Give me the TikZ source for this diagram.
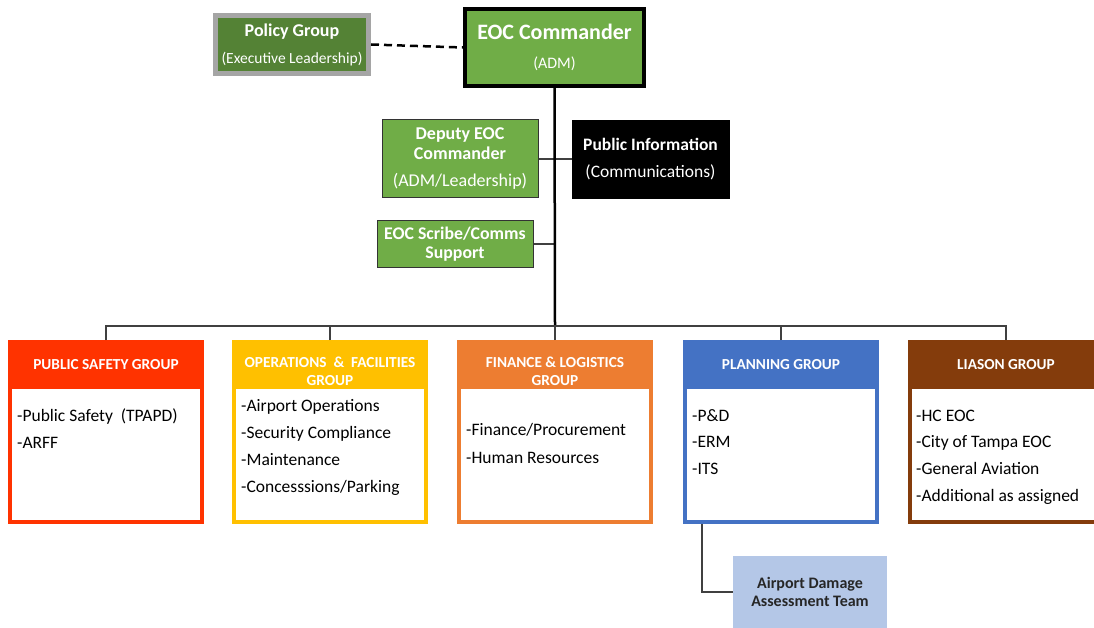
\documentclass[tikz,border=0pt]{standalone}
\usepackage{fontspec}
\setmainfont{Carlito}
\definecolor{gA}{HTML}{70AD47}
\definecolor{gB}{HTML}{548235}
\definecolor{grayB}{HTML}{A5A5A5}
\definecolor{psC}{HTML}{FF3300}
\definecolor{opC}{HTML}{FFC000}
\definecolor{fiC}{HTML}{ED7D31}
\definecolor{plC}{HTML}{4472C4}
\definecolor{liC}{HTML}{843C0C}
\definecolor{adC}{HTML}{B4C7E7}
\definecolor{lineC}{HTML}{404040}
\tikzset{
  box/.style={rectangle, inner sep=0pt, align=center},
  grp/.style={rectangle, inner sep=0pt, line width=4pt, minimum width=192pt, minimum height=180pt},
  hdr/.style={text=white, font=\bfseries\fontsize{15.3}{18}\selectfont, align=center},
  item/.style={anchor=base west, inner sep=0pt, font=\fontsize{17.5}{20}\selectfont},
  conn/.style={draw=lineC, line width=1.3pt},
}
\begin{document}
\begin{tikzpicture}[x=1pt,y=-1pt]
\useasboundingbox (0,0) rectangle (1094,628);
\clip (0,0) rectangle (1094,628);
% top
\node[box, draw=grayB, line width=5pt, fill=gB, minimum width=153pt, minimum height=58pt, text=white, font=\fontsize{15.5}{18}\selectfont] (pol) at (292,44.5)
  {\textbf{\fontsize{18}{21}\selectfont Policy Group}\\[9pt](Executive Leadership)};
\node[box, draw=black, line width=4pt, fill=gA, minimum width=179pt, minimum height=77pt, text=white, font=\fontsize{16}{19}\selectfont] (eoc) at (554.5,47.5)
  {\textbf{\fontsize{22}{26}\selectfont EOC Commander}\\[10pt](ADM)};
\node[box, draw=black!80, line width=1pt, fill=gA, minimum width=156pt, minimum height=78pt, text=white, font=\fontsize{18}{20}\selectfont] (dep) at (460,159)
  {\textbf{Deputy EOC}\\\textbf{Commander}\\[7pt](ADM/Leadership)};
\node[box, draw=black, fill=black, minimum width=157pt, minimum height=78pt, text=white, font=\fontsize{17.5}{20}\selectfont] (pub) at (650.5,159)
  {\textbf{Public Information}\\[7pt](Communications)};
\node[box, draw=black!80, line width=1pt, fill=gA, minimum width=156pt, minimum height=46pt, text=white, font=\bfseries\fontsize{17.8}{19.5}\selectfont] (scr) at (455,244)
  {EOC Scribe/Comms\\Support};
\coordinate (busc) at (555,326);
\coordinate (scrj) at (555,244);
% connectors top
\draw[line width=2.5pt, dash pattern=on 8pt off 5pt] (pol.east) -- (eoc.west);
\draw[conn] (dep.east) -- (pub.west);
\draw[conn] (scr.east) -- (scrj);
\draw[line width=2.5pt] (eoc.south) -- (busc);
% groups
\fill[psC] (10,342) rectangle (202,389);
\node[grp, draw=psC] (ps) at (106,432) {};
\fill[opC] (234,342) rectangle (426,389);
\node[grp, draw=opC] (op) at (330,432) {};
\fill[fiC] (459,342) rectangle (651,389);
\node[grp, draw=fiC] (fi) at (555,432) {};
\fill[plC] (685,342) rectangle (877,389);
\node[grp, draw=plC] (pl) at (781,432) {};
\fill[liC] (910,342) rectangle (1102,389);
\node[grp, draw=liC] (li) at (1006,432) {};
\node[hdr] (psh) at (106,365) {PUBLIC SAFETY GROUP};
\node[hdr] (oph) at (330,371) {OPERATIONS\ \ \&\ \ FACILITIES\\GROUP};
\node[hdr] (fih) at (555,371) {FINANCE \& LOGISTICS\\GROUP};
\node[hdr] (plh) at (781,365) {PLANNING GROUP};
\node[hdr] (lih) at (1006,365) {LIASON GROUP};
\foreach \t [count=\i] in {{-Public Safety\ \ (TPAPD)},{-ARFF}}
  \node[item] (psi\i) at (17,{421+27*(\i-1)}) {\t};
\foreach \t [count=\i] in {{-Airport Operations},{-Security Compliance},{-Maintenance},{-Concesssions/Parking}}
  \node[item] (opi\i) at (241,{411+27.3*(\i-1)}) {\t};
\foreach \t [count=\i] in {{-Finance/Procurement},{-Human Resources}}
  \node[item] (fii\i) at (466,{435+28*(\i-1)}) {\t};
\foreach \t [count=\i] in {{-P\&D},{-ERM},{-ITS}}
  \node[item] (pli\i) at (692,{421+26.7*(\i-1)}) {\t};
\foreach \t [count=\i] in {{-HC EOC},{-City of Tampa EOC},{-General Aviation},{-Additional as assigned}}
  \node[item] (lii\i) at (916,{421+26.8*(\i-1)}) {\t};
% bus
\draw[conn] (ps.north) |- (busc) -| (li.north);
\draw[conn] (op.north) -- (op.north |- busc);
\draw[conn] (fi.north) -- (fi.north |- busc);
\draw[conn] (pl.north) -- (pl.north |- busc);
% ADAT
\node[box, fill=adC, minimum width=154pt, minimum height=72pt, text=black!85, font=\bfseries\fontsize{16}{18}\selectfont] (ad) at (810,592)
  {Airport Damage\\Assessment Team};
\draw[conn] (pl.south west) ++(19,0) |- (ad.west);
\end{tikzpicture}
\end{document}
